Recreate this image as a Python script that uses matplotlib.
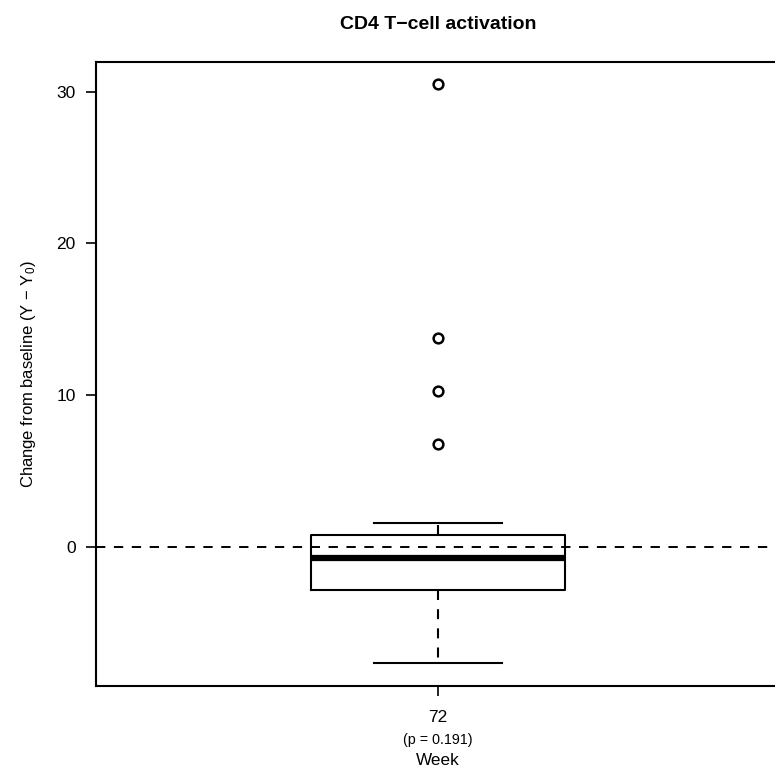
import matplotlib
matplotlib.use("Agg")
import matplotlib.pyplot as plt

plt.rcParams["font.family"] = ["Liberation Sans", "DejaVu Sans"]
plt.rcParams["mathtext.fontset"] = "custom"
plt.rcParams["mathtext.rm"] = "Liberation Sans"
plt.rcParams["mathtext.it"] = "Liberation Sans"

# box statistics (week 72)
week = "72"
p_value = "(p = 0.191)"
q1, med, q3 = -2.83, -0.72, 0.79
whis_lo, whis_hi = -7.63, 1.58
outliers = [30.5, 13.8, 10.3, 6.8]

stats = [{
    "label": week,
    "q1": q1, "med": med, "q3": q3,
    "whislo": whis_lo, "whishi": whis_hi,
    "fliers": outliers,
}]

fig = plt.figure(figsize=(7.75, 7.7), dpi=100)
ax = fig.add_axes([96 / 775, 1 - 686 / 770, 684 / 775, 624 / 770])

dash = (0, (4.8, 4.4))
ax.axhline(0, color="black", linestyle=dash, linewidth=1.4, zorder=1)

ax.bxp(stats, positions=[1], widths=0.372, showfliers=True,
       boxprops=dict(color="black", linewidth=1.5),
       medianprops=dict(color="black", linewidth=4.5, solid_capstyle="butt"),
       whiskerprops=dict(color="black", linewidth=1.5, linestyle=dash),
       capprops=dict(color="black", linewidth=1.5),
       capwidths=0.187,
       flierprops=dict(marker="o", markerfacecolor="none", markeredgecolor="black",
                       markeredgewidth=1.8, markersize=7))

ax.set_xlim(0.5, 1.5)
ax.set_ylim(-9.15, 31.95)
ax.set_yticks([0, 10, 20, 30])
ax.set_xticks([1])
ax.set_xticklabels([week])
ax.tick_params(axis="both", length=7.5, width=1.2, labelsize=12.5, color="black")
ax.tick_params(axis="x", pad=10)
ax.tick_params(axis="y", pad=7)

for s in ax.spines.values():
    s.set_linewidth(1.5)

ax.text(1, -0.0865, p_value, transform=ax.get_xaxis_transform(),
        ha="center", va="center", fontsize=10.3)
ax.set_xlabel("Week", fontsize=12.3, labelpad=20)
ax.set_ylabel("Change from baseline (Y \u2212 Y$_0$)", fontsize=12, labelpad=13)
ax.set_title("CD4 T\u2212cell activation", fontsize=14, fontweight="bold", pad=24)

fig.savefig("out.png", dpi=100)
